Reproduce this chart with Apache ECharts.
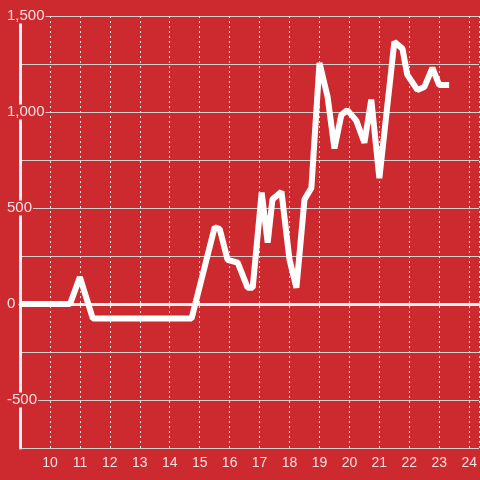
<!DOCTYPE html>
<html>
<head>
<meta charset="utf-8">
<script src="https://cdn.jsdelivr.net/npm/echarts@6/dist/echarts.min.js"></script>
<style>
  html, body { margin: 0; padding: 0; background: #cd2a2f; }
  #chart { width: 480px; height: 480px; }
</style>
</head>
<body>
<div id="chart"></div>
<script>
// values
const xValues = [9, 10.67, 11, 11.43, 14.73, 15.5, 15.67, 15.93, 16.27, 16.6, 16.77, 17.07, 17.27, 17.43, 17.73, 18.0, 18.23, 18.5, 18.73, 19.0, 19.27, 19.5, 19.73, 19.93, 20.23, 20.5, 20.73, 21.0, 21.5, 21.77, 21.93, 22.27, 22.5, 22.77, 23.0, 23.33];
const yValues = [0, 0, 140, -75, -75, 400, 390, 230, 215, 85, 85, 580, 320, 545, 585, 230, 85, 545, 605, 1255, 1080, 810, 985, 1010, 955, 840, 1065, 655, 1365, 1330, 1195, 1115, 1130, 1230, 1140, 1140];
const yLabelStep = 500;

const bg = '#cd2a2f';
const labelColor = 'rgba(255,255,255,0.85)';

const chart = echarts.init(document.getElementById('chart'));

const addCommas = v => String(v).replace(/\B(?=(\d{3})+(?!\d))/g, ',');

chart.setOption({
  backgroundColor: bg,
  animation: false,
  grid: { left: 20, right: 0, top: 16, bottom: 32 },
  xAxis: {
    type: 'value',
    min: 9,
    max: 24.33,
    interval: 1,
    axisLine: { onZero: true, lineStyle: { color: '#f2f2f2', width: 3 } },
    axisTick: { show: false },
    axisLabel: {
      color: labelColor,
      fontSize: 14,
      fontFamily: 'Liberation Sans',
      margin: 8,
      showMinLabel: false,
      showMaxLabel: false
    },
    splitLine: { show: true, lineStyle: { color: '#e6e6e6', type: [2, 3], width: 1 } }
  },
  yAxis: {
    type: 'value',
    min: -750,
    max: 1500,
    interval: 250,
    axisLine: { show: true, lineStyle: { color: '#f2f2f2', width: 3 } },
    axisTick: { show: false },
    axisLabel: {
      align: 'left',
      margin: 14,
      formatter: v => (v % yLabelStep === 0 ? '{b|' + addCommas(v) + '}' : ''),
      rich: {
        b: {
          color: labelColor,
          fontSize: 15,
          fontFamily: 'Liberation Sans',
          backgroundColor: bg,
          padding: [0, 1]
        }
      }
    },
    splitLine: { lineStyle: { color: '#d0d0d0', width: 1 } }
  },
  series: [{
    type: 'line',
    data: xValues.map((x, i) => [x, yValues[i]]),
    showSymbol: false,
    clip: false,
    lineStyle: { color: '#ffffff', width: 6 }
  }]
});
</script>
</body>
</html>
